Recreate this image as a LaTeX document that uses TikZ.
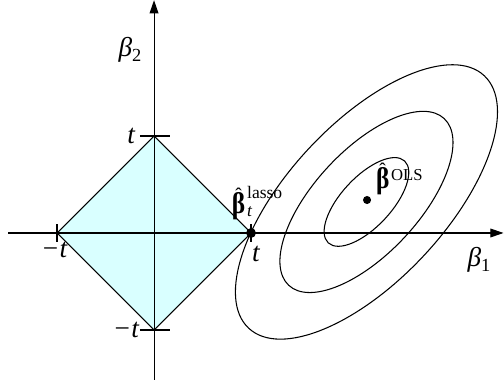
\documentclass[tikz,border=0pt]{standalone}
\usepackage{fontspec}
\setmainfont{Liberation Serif}
\usetikzlibrary{arrows.meta}

\definecolor{lassofill}{RGB}{217,255,255}

% bold beta with a hat on top
\newcommand{\hatbeta}{\ooalign{\hfil\raisebox{7pt}{\mdseries\fontsize{11}{11}\selectfont ˆ}\hfil\cr\scalebox{0.85}[1]{β}\cr}}

\tikzset{
  axis/.style={line width=0.6pt, -{Triangle[length=7.5pt,width=5pt]}},
  tickmark/.style={line width=1.5pt},
  contour/.style={line width=0.6pt},
  lbl/.style={font=\fontsize{15.5}{17}\selectfont\itshape, inner sep=0pt},
  est/.style={font=\fontsize{17}{17}\selectfont\bfseries, inner sep=0pt, anchor=base west},
}

\begin{document}
\begin{tikzpicture}[x=1.94cm, y=1.94cm]
  \useasboundingbox (-1.588,-1.536) rectangle (3.608,2.402);

  % corners of the region |b1|+|b2| <= t
  \coordinate (O) at (0,0);
  \coordinate (E) at (1,0);
  \coordinate (N) at (0,1);
  \coordinate (W) at (-1,0);
  \coordinate (S) at (0,-1);
  \coordinate (C) at (2.19,0.32);
  \coordinate (OLS) at (2.196,0.340);

  % shaded diamond
  \fill[lassofill] (E) -- (N) -- (W) -- (S) -- cycle;
  \draw[contour] (E) -- (N) -- (W) -- (S) -- cycle;

  % axes
  \coordinate (xstart) at (-1.505,0);
  \coordinate (xend) at (3.603,0);
  \coordinate (ystart) at (0,-1.515);
  \coordinate (yend) at (0,2.40);
  \draw[axis] (xstart) -- (xend);
  \draw[axis] (ystart) -- (yend);

  % ticks at +-t
  \draw[tickmark] ([xshift=-8pt]N) -- ([xshift=9pt]N);
  \draw[tickmark] ([xshift=-8pt]S) -- ([xshift=9pt]S);
  \draw[tickmark] ([yshift=-5pt]W) -- ([yshift=5pt]W);
  \draw[tickmark] ([yshift=-5pt]E) -- ([yshift=5pt]E);

  % contours of the residual sum of squares
  \draw[contour, rotate around={47:(C)}] (C) ellipse [x radius=0.577, y radius=0.258];
  \draw[contour, rotate around={47:(C)}] (C) ellipse [x radius=1.175, y radius=0.536];
  \draw[contour, rotate around={47:(C)}] (C) ellipse [x radius=1.78, y radius=0.81];

  % estimates
  \fill (E) circle [radius=2.8pt];
  \fill (OLS) circle [radius=2.3pt];

  % labels
  \node[lbl] (b2) at (-0.247,1.887) {β\raisebox{-0.4ex}{\upshape\fontsize{10.5}{10.5}\selectfont 2}};
  \node[lbl] (b1) at (3.35,-0.28) {β\raisebox{-0.4ex}{\upshape\fontsize{10.5}{10.5}\selectfont 1}};
  \node[lbl] (tN) at (-0.237,1.0) {t};
  \node[lbl] (tW) at (-1.03,-0.175) {−t};
  \node[lbl] (tS) at (-0.29,-1.0) {−t};
  \node[lbl] (tE) at (1.05,-0.22) {t};
  \node[est] (lasso) at (0.80,0.20) {\hatbeta\kern1pt\rlap{\raisebox{8.5pt}{\mdseries\fontsize{10}{10}\selectfont lasso}}\raisebox{-1.7pt}{\mdseries\itshape\fontsize{10}{10}\selectfont t}};
  \node[est] (ols) at (2.285,0.46) {\hatbeta\kern1pt\raisebox{4.5pt}{\mdseries\fontsize{9.5}{9.5}\selectfont OLS}};

\end{tikzpicture}
\end{document}
